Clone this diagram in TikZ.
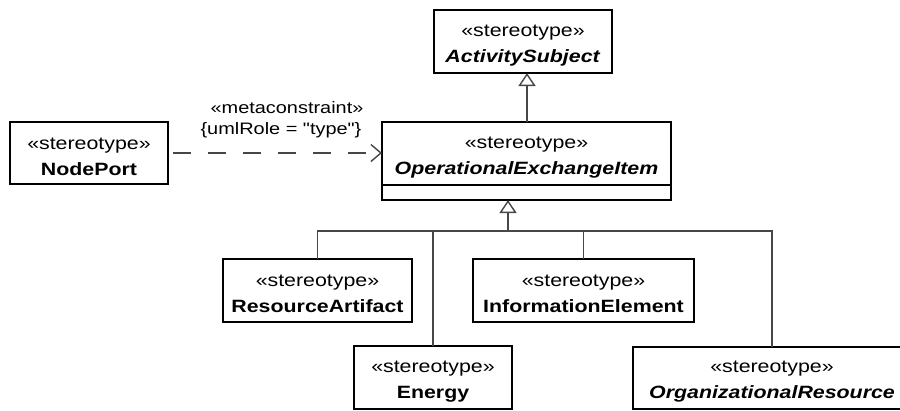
\documentclass[tikz,border=0pt]{standalone}
\usepackage{fontspec}
\setmainfont[FakeStretch=1.2, Ligatures=TeXOff]{Liberation Sans}
\usetikzlibrary{arrows.meta}
\newcommand{\stlift}{\rule{0pt}{19pt}}
\begin{document}
\begin{tikzpicture}[x=1pt,y=-1pt,
  box/.style={draw=black, line width=1.8pt, fill=white, align=center, inner sep=0pt, outer sep=0pt, font=\fontsize{17.8}{26}\selectfont},
  conn/.style={draw=black!72, line width=1.4pt},
  gen/.style={conn, -{Triangle[open, length=13pt, width=17pt, fill=white]}},
  dep/.style={conn, dash pattern=on 18pt off 17pt, -{Straight Barb[length=10pt, width=17pt]}},
  lbl/.style={font=\fontsize{16.6}{20}\selectfont, inner sep=0pt}
]
\useasboundingbox (0,0) rectangle (900,410);
\clip (0,0) rectangle (900,410);
\node[box, minimum width=178pt, minimum height=63pt] (as) at (523,41.5) {\stlift«stereotype»\\\textbf{\textit{ActivitySubject}}};
\node[box, minimum width=289pt, minimum height=63pt] (oei) at (526.5,153.5) {\stlift«stereotype»\\\textbf{\textit{OperationalExchangeItem}}};
\node[box, minimum width=289pt, minimum height=15pt, anchor=north] (oeic) at (oei.south) {};
\node[box, minimum width=158pt, minimum height=62pt] (np) at (89,153) {\stlift«stereotype»\\\textbf{NodePort}};
\node[box, minimum width=189pt, minimum height=63pt] (ra) at (317.5,290.5) {\stlift«stereotype»\\\textbf{ResourceArtifact}};
\node[box, minimum width=221pt, minimum height=63pt] (ie) at (583.5,290.5) {\stlift«stereotype»\\\textbf{InformationElement}};
\node[box, minimum width=158pt, minimum height=63pt] (en) at (433,377.5) {\stlift«stereotype»\\\textbf{Energy}};
\node[box, minimum width=278pt, minimum height=62pt] (org) at (772,378) {\stlift«stereotype»\\\textbf{\textit{OrganizationalResource}}};
\node[lbl] (mc) at (287,108) {«metaconstraint»};
\node[lbl] (ur) at (281,130) {\{umlRole = "type"\}};
\draw[dep, shorten <=5pt] (np.east) -- (np.east -| oei.west);
\draw[gen] ([xshift=0.5pt]oei.north) -- ([xshift=0.5pt]oei.north |- as.south);
\coordinate (j) at (508,231);
\draw[gen] (j) -- (j |- oeic.south);
\draw[conn] (ra.north) |- (j) -| (org.north);
\draw[conn] (en.north) -- (en.north |- j);
\draw[conn] (ie.north) -- (ie.north |- j);
\end{tikzpicture}
\end{document}
